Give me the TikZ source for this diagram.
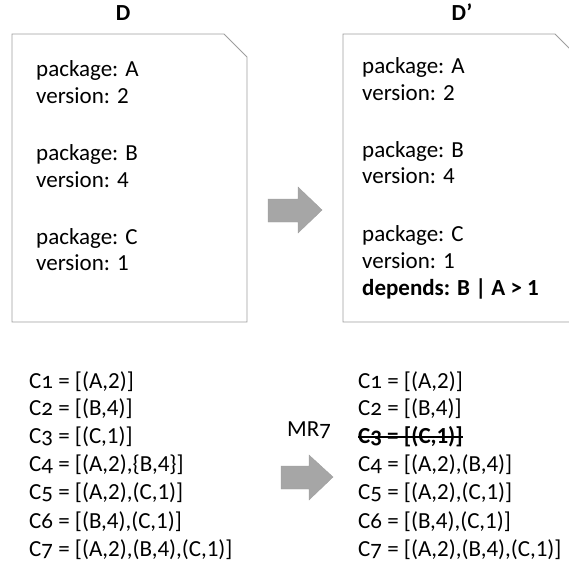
\documentclass[tikz,border=0pt]{standalone}
\usepackage{fontspec}
\setmainfont{Carlito}
\newfontfamily\osf{Carlito}[Numbers=OldStyle]
\tikzset{
  txt/.style={anchor=base west, inner sep=0pt, font=\fontsize{23}{27}\selectfont},
  ttl/.style={anchor=base, inner sep=0pt, font=\fontsize{23}{27}\selectfont\bfseries},
  docpage/.style={draw=black!38, line width=0.8pt, fill=white},
  blockarrow/.style={fill=black!35, draw=black!38, line width=0.4pt},
}
\newcommand{\cn}[1]{C{\osf #1}}
\begin{document}
\begin{tikzpicture}[x=1pt,y=-1pt]
\useasboundingbox (0,0) rectangle (569,567);
% titles
\node[ttl] (tD) at (123,21) {D};
\node[ttl] (tDp) at (462,21) {D’};
% documents
\draw[docpage] (12,34) -- (224,34) -- (247,57) -- (247,322) -- (12,322) -- cycle;
\draw[docpage] (343,34) -- (555,34) -- (578,57) -- (578,322) -- (343,322) -- cycle;
% left doc text
\node[txt] (l1) at (36,77) {package: A};
\node[txt] (l2) at (36,103) {version: 2};
\node[txt] (l3) at (36,160) {package: B};
\node[txt] (l4) at (36,187) {version: 4};
\node[txt] (l5) at (36,244) {package: C};
\node[txt] (l6) at (36,270) {version: 1};
% right doc text
\node[txt] (r1) at (362,74) {package: A};
\node[txt] (r2) at (362,100) {version: 2};
\node[txt] (r3) at (362,157) {package: B};
\node[txt] (r4) at (362,183) {version: 4};
\node[txt] (r5) at (362,241) {package: C};
\node[txt] (r6) at (362,268) {version: 1};
\node[txt, font=\fontsize{23}{27}\selectfont\bfseries] (r7) at (362,295) {depends: B | A > 1};
% top arrow
\draw[blockarrow] (268,199) -- (298,199) -- (298,187) -- (322,210) -- (298,233) -- (298,222) -- (268,222) -- cycle;
% bottom arrow
\draw[blockarrow] (281,466) -- (309,466) -- (309,455) -- (333,477) -- (309,500) -- (309,489) -- (281,489) -- cycle;
\node[txt] (mr) at (287,436) {MR{\osf 7}};
% left list
\node[txt] (a1) at (29,388) {\cn{1} = [(A,2)]};
\node[txt] (a2) at (29,415) {\cn{2} = [(B,4)]};
\node[txt] (a3) at (29,443) {\cn{3} = [(C,1)]};
\node[txt] (a4) at (29,471) {\cn{4} = [(A,2),\{B,4\}]};
\node[txt] (a5) at (29,499) {\cn{5} = [(A,2),(C,1)]};
\node[txt] (a6) at (29,528) {\cn{6} = [(B,4),(C,1)]};
\node[txt] (a7) at (29,556) {\cn{7} = [(A,2),(B,4),(C,1)]};
% right list
\node[txt] (b1) at (358,388) {\cn{1} = [(A,2)]};
\node[txt] (b2) at (358,415) {\cn{2} = [(B,4)]};
\node[txt, font=\fontsize{23}{27}\selectfont\bfseries] (b3) at (358,443) {\cn{3} = [(C,1)]};
\node[txt] (b4) at (358,471) {\cn{4} = [(A,2),(B,4)]};
\node[txt] (b5) at (358,499) {\cn{5} = [(A,2),(C,1)]};
\node[txt] (b6) at (358,528) {\cn{6} = [(B,4),(C,1)]};
\node[txt] (b7) at (358,556) {\cn{7} = [(A,2),(B,4),(C,1)]};
% strike-through
\draw[line width=1.5pt] ([yshift=6pt]b3.base west) -- ([yshift=6pt]b3.base east);
\end{tikzpicture}
\end{document}
